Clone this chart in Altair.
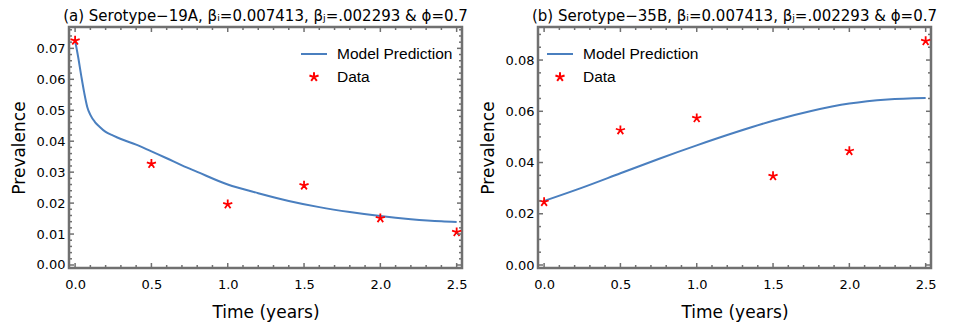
import altair as alt
import pandas as pd

series_names = ["Model Prediction", "Data"]

data_time = [0.0, 0.5, 1.0, 1.5, 2.0, 2.5]
data_19a = [0.0725, 0.0327, 0.0196, 0.0257, 0.0151, 0.0106]
data_35b = [0.0246, 0.0526, 0.0573, 0.0347, 0.0445, 0.0874]

model_time_a = [0.0, 0.02, 0.04, 0.06, 0.08, 0.10, 0.13, 0.16, 0.20, 0.25, 0.30,
                0.40, 0.50, 0.60, 0.70, 0.80, 1.00, 1.20, 1.40, 1.60, 1.80,
                2.00, 2.20, 2.40, 2.50]
model_19a = [0.0725, 0.0672, 0.0612, 0.0556, 0.0510, 0.0485, 0.0462, 0.0447,
             0.0430, 0.0418, 0.0407, 0.0389, 0.0367, 0.0345, 0.0322, 0.0301,
             0.0260, 0.0232, 0.0207, 0.0187, 0.0171, 0.0158, 0.0148, 0.0141,
             0.0139]

model_time_b = [0.0, 0.25, 0.5, 0.75, 1.0, 1.25, 1.5, 1.75, 2.0, 2.25, 2.5]
model_35b = [0.0250, 0.0302, 0.0358, 0.0414, 0.0467, 0.0517, 0.0563, 0.0601,
             0.0630, 0.0646, 0.0652]

title_a = "(a) Serotype\u221219A, \u03b2\u1d62=0.007413, \u03b2\u2c7c=.002293 & \u03d5=0.7"
title_b = "(b) Serotype\u221235B, \u03b2\u1d62=0.007413, \u03b2\u2c7c=.002293 &  \u03d5=0.7"

x_major = [0.0, 0.5, 1.0, 1.5, 2.0, 2.5]
x_minor = [round(i * 0.1, 1) for i in range(26) if i % 5]
ya_major = [0.00, 0.01, 0.02, 0.03, 0.04, 0.05, 0.06, 0.07]
ya_minor = [round(i * 0.002, 3) for i in range(39) if i % 5]
yb_major = [0.00, 0.02, 0.04, 0.06, 0.08]
yb_minor = [round(i * 0.005, 3) for i in range(19) if i % 4]

BLUE = "#4a7fbf"
RED = "#ff0000"
GRAY = "#707070"
LINE_PATH = "M-1,0L1,0"
r = 0.37
STAR_PATH = (f"M0,0L0,{-r}M0,0L{0.951*r:.3f},{-0.309*r:.3f}M0,0L{-0.951*r:.3f},{-0.309*r:.3f}"
             f"M0,0L{0.588*r:.3f},{0.809*r:.3f}M0,0L{-0.588*r:.3f},{0.809*r:.3f}")

W, H = 393, 241
MAJ, MIN = 5, 3
LEG_FONT = 15.5


def panel(title, mt, mv, dv, y_dom, y_major, y_minor, leg_x):
    xs = alt.Scale(domain=[-0.04, 2.535], nice=False, zero=False)
    ys = alt.Scale(domain=y_dom, nice=False, zero=False)
    cs = alt.Scale(domain=series_names, range=[BLUE, RED])
    ss = alt.Scale(domain=series_names, range=[LINE_PATH, STAR_PATH])
    model_df = pd.DataFrame({"t": mt, "v": mv, "series": series_names[0]})
    data_df = pd.DataFrame({"t": data_time, "v": dv, "series": series_names[1]})
    x_axis = alt.Axis(values=x_major, format=".1f", title="Time (years)", ticks=False,
                      domain=False, grid=False, labelPadding=10, titlePadding=13)
    y_axis = alt.Axis(values=y_major, format=".2f", title="Prevalence", ticks=False,
                      domain=False, grid=False, labelPadding=4, titlePadding=8)
    legend = alt.Legend(orient="none", legendX=leg_x, legendY=13, title=None,
                        labelFont="Liberation Sans", labelFontSize=LEG_FONT, labelColor="black",
                        labelOffset=9, rowPadding=-4, symbolStrokeWidth=2, symbolOpacity=1,
                        padding=0, symbolSize=676)
    line = alt.Chart(model_df).mark_line(strokeWidth=2, interpolate="monotone").encode(
        x=alt.X("t:Q", scale=xs, axis=x_axis),
        y=alt.Y("v:Q", scale=ys, axis=y_axis),
        color=alt.Color("series:N", scale=cs, legend=legend),
    )
    pts = alt.Chart(data_df).mark_point(filled=False, size=676, strokeWidth=1.8, opacity=1).encode(
        x=alt.X("t:Q", scale=xs, axis=x_axis),
        y=alt.Y("v:Q", scale=ys, axis=y_axis),
        color=alt.Color("series:N", scale=cs, legend=legend),
        shape=alt.Shape("series:N", scale=ss, legend=legend),
    )

    def yr(vals, L, left):
        df = pd.DataFrame({"v": vals})
        x0, x1 = (0, L) if left else (W, W - L)
        return alt.Chart(df).mark_rule(color=GRAY, strokeWidth=1.5).encode(
            y=alt.Y("v:Q", scale=ys, axis=y_axis), x=alt.value(x0), x2=alt.value(x1))

    def xr(vals, L, bottom):
        df = pd.DataFrame({"t": vals})
        y0, y1 = (H, H - L) if bottom else (0, L)
        return alt.Chart(df).mark_rule(color=GRAY, strokeWidth=1.5).encode(
            x=alt.X("t:Q", scale=xs, axis=x_axis), y=alt.value(y0), y2=alt.value(y1))

    ticks = [yr(y_major, MAJ, True), yr(y_minor, MIN, True),
             yr(y_major, MAJ, False), yr(y_minor, MIN, False),
             xr(x_major, MAJ, True), xr(x_minor, MIN, True),
             xr(x_major, MAJ, False), xr(x_minor, MIN, False)]

    return alt.layer(line, pts, *ticks).properties(
        width=W, height=H,
        title=alt.TitleParams(title, font="DejaVu Sans", fontSize=15, fontWeight="normal",
                              anchor="middle", offset=2, color="black"),
    )


left = panel(title_a, model_time_a, model_19a, data_19a, [-0.00097, 0.0769],
             ya_major, ya_minor, 231)
right = panel(title_b, model_time_b, model_35b, data_35b, [-0.00117, 0.0929],
              yb_major, yb_minor, 8)

chart = alt.HConcatChart(hconcat=[left, right], spacing=76, bounds="flush").resolve_scale(
    x="independent", y="independent", color="independent", shape="independent"
).resolve_legend(color="independent", shape="independent").properties(
    padding=0
).configure_view(
    stroke=GRAY, strokeWidth=2.5
).configure_axis(
    labelFont="DejaVu Sans", labelFontSize=13, labelColor="black",
    titleFont="DejaVu Sans", titleFontSize=17, titleFontWeight="normal", titleColor="black",
).configure_legend(
    labelFont="Liberation Sans", labelFontSize=LEG_FONT, labelColor="black",
    symbolStrokeWidth=2, symbolOpacity=1,
)

chart.save("out.html", embed_options={"renderer": "svg", "actions": False})
